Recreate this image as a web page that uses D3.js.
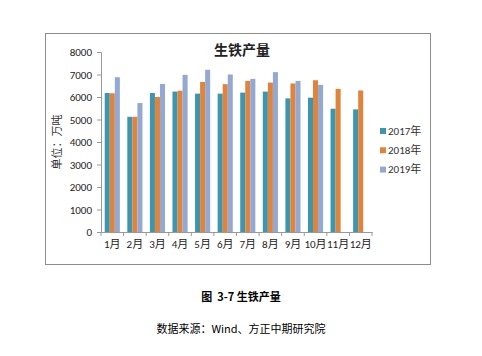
<!DOCTYPE html>
<html><head><meta charset="utf-8">
<script src="https://cdn.jsdelivr.net/npm/d3@7"></script>
<style>body{margin:0;background:#fff}svg{display:block}</style>
</head><body>
<script>
const months = ["1月","2月","3月","4月","5月","6月","7月","8月","9月","10月","11月","12月"];
const seriesNames = ["2017年","2018年","2019年"];
const v2017 = [6180,5120,6180,6240,6150,6150,6195,6240,5940,5970,5480,5450];
const v2018 = [6165,5120,6000,6280,6670,6570,6715,6640,6600,6745,6360,6290];
const v2019 = [6880,5730,6580,6985,7210,7000,6805,7105,6715,6540,null,null];
const yTicks = [0,1000,2000,3000,4000,5000,6000,7000,8000];
const colors = ["#3E96AE","#DF843C","#93A9D1"];
const allSeries = [v2017,v2018,v2019];

const W=482,H=356;
const svg=d3.select("body").append("svg").attr("width",W).attr("height",H);
const sans="Calibri, 'Liberation Sans', 'Noto Sans CJK SC', sans-serif";
const cjk="'Noto Sans CJK SC', sans-serif";

svg.append("rect").attr("x",45.5).attr("y",33.5).attr("width",385).attr("height",231)
  .attr("fill","#fff").attr("stroke","#8c8c8c").attr("stroke-width",1);

const x=d3.scaleBand().domain(months).range([101,372]).paddingInner(0.33).paddingOuter(0.165);
const xs=d3.scaleBand().domain([0,1,2]).range([0,x.bandwidth()]);
const y=d3.scaleLinear().domain([0,8000]).range([232,52]);

const g=svg.append("g");
allSeries.forEach((s,i)=>{
  g.selectAll(null).data(months.map((m,j)=>({m,v:s[j]})).filter(d=>d.v!=null))
   .enter().append("rect")
   .attr("x",d=>x(d.m)+xs(i)).attr("width",xs.bandwidth())
   .attr("y",d=>y(d.v)).attr("height",d=>y(0)-y(d.v)).attr("fill",colors[i]);
});

// y axis
const ya=svg.append("g").attr("transform","translate(101,0)")
  .call(d3.axisLeft(y).tickValues(yTicks).tickSize(4).tickPadding(5).tickFormat(d3.format("d")));
ya.select(".domain").attr("stroke","#999");
ya.selectAll(".tick line").attr("stroke","#999");
ya.selectAll("text").attr("font-family",sans).attr("font-size",11).attr("fill","#222");

// x axis
const xa=svg.append("g").attr("transform","translate(0,232)")
  .call(d3.axisBottom(x).tickSize(0).tickPadding(8));
xa.select(".domain").attr("stroke","#999");
xa.selectAll("text").attr("font-family",sans).attr("font-size",11).attr("fill","#222");
const bounds=d3.range(13).map(i=>101+i*(271/12));
svg.append("g").selectAll("line").data(bounds).enter().append("line")
  .attr("x1",d=>d).attr("x2",d=>d).attr("y1",232).attr("y2",236).attr("stroke","#999");

// title
svg.append("text").attr("x",242).attr("y",55).attr("text-anchor","middle")
  .attr("font-family",cjk).attr("font-weight","bold").attr("font-size",14).attr("fill","#222").text("生铁产量");
// y label
svg.append("text").attr("transform","translate(61,142) rotate(-90)").attr("text-anchor","middle")
  .attr("font-family",cjk).attr("font-size",11).attr("fill","#333").text("单位：万吨");

// legend
const lg=svg.append("g");
seriesNames.forEach((n,i)=>{
  const cy=131+i*19.3;
  lg.append("rect").attr("x",380).attr("y",cy-3).attr("width",6).attr("height",6).attr("fill",colors[i]);
  lg.append("text").attr("x",388).attr("y",cy).attr("dy","0.35em")
    .attr("font-family",sans).attr("font-size",11).attr("fill","#333").text(n);
});

// captions
svg.append("text").attr("x",241).attr("y",301).attr("text-anchor","middle").style("white-space","pre")
  .attr("font-family",cjk).attr("font-weight","bold").attr("font-size",11).attr("fill","#000").text("图  3-7 生铁产量");
svg.append("text").attr("x",241).attr("y",333).attr("text-anchor","middle")
  .attr("font-family",cjk).attr("font-size",11).attr("fill","#000").text("数据来源：Wind、方正中期研究院");
</script>
</body></html>
